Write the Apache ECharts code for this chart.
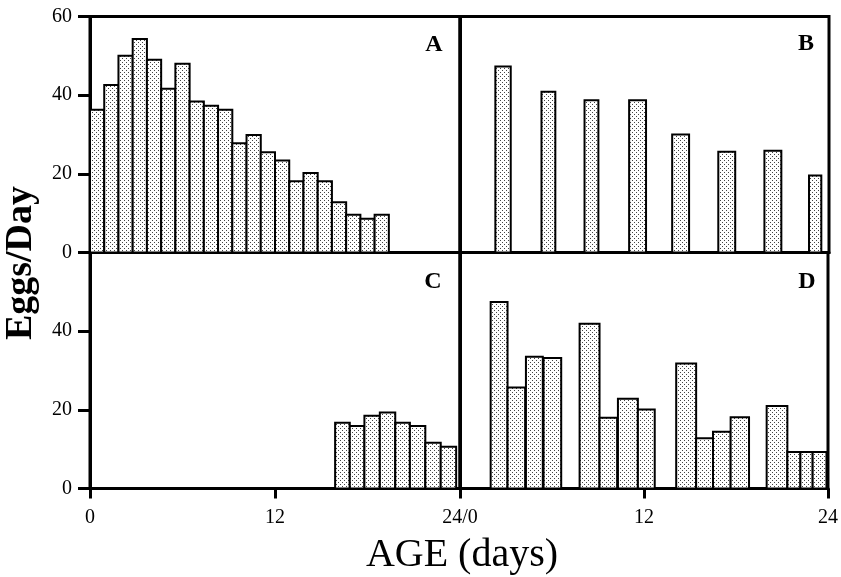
<!DOCTYPE html>
<html>
<head>
<meta charset="utf-8">
<title>Eggs/Day by age</title>
<script src="https://cdn.jsdelivr.net/npm/echarts@6/dist/echarts.min.js"></script>
<style>
  html, body { margin: 0; padding: 0; background: #fff; }
  #chart { width: 841px; height: 577px; }
</style>
</head>
<body>
<div id="chart"></div>
<script>
// A: daily bins
const startA = [0, 1, 2, 3, 4, 5, 6, 7, 8, 9, 10, 11, 12, 13, 14, 15, 16, 17, 18, 19, 20];
const endA = [1, 2, 3, 4, 5, 6, 7, 8, 9, 10, 11, 12, 13, 14, 15, 16, 17, 18, 19, 20, 21];
const eggsA = [36.3, 42.6, 50.0, 54.3, 49.0, 41.6, 48.0, 38.4, 37.3, 36.3, 27.8,
  29.9, 25.5, 23.4, 18.1, 20.2, 18.1, 12.8, 9.6, 8.6, 9.6];

// B: every third day
const startB = [2.3, 5.3, 8.1, 11.0, 13.8, 16.8, 19.8, 22.7];
const endB = [3.3, 6.2, 9.0, 12.1, 14.9, 17.9, 20.9, 23.5];
const eggsB = [47.3, 40.9, 38.7, 38.7, 30.0, 25.6, 25.9, 19.6];

// C: late start
const startC = [15.9, 16.85, 17.8, 18.8, 19.8, 20.75, 21.75, 22.75];
const endC = [16.85, 17.8, 18.8, 19.8, 20.75, 21.75, 22.75, 23.75];
const eggsC = [16.7, 15.9, 18.5, 19.3, 16.7, 15.9, 11.6, 10.6];

// D: four groups of four
const startD = [2.0, 3.1, 4.3, 5.45, 7.8, 9.1, 10.3, 11.6, 14.1, 15.4, 16.5, 17.65, 20.0, 21.35, 22.2, 23.0];
const endD = [3.1, 4.25, 5.4, 6.6, 9.1, 10.25, 11.6, 12.7, 15.4, 16.5, 17.65, 18.85, 21.35, 22.2, 23.0, 23.9];
const eggsD = [47.4, 25.7, 33.5, 33.2, 41.9, 18.0, 22.8, 20.1, 31.8, 12.8, 14.4, 18.1, 21.0, 9.3, 9.3, 9.3];

const panelNames = ['A', 'B', 'C', 'D'];
const yTicks = [0, 20, 40, 60];
const xTicks = [0, 12, 24];

const FONT = '"Liberation Serif", "DejaVu Serif", serif';

// stipple fill for the bars
const dots = document.createElement('canvas');
dots.width = 4;
dots.height = 4;
const g = dots.getContext('2d');
g.fillStyle = '#fff';
g.fillRect(0, 0, 4, 4);
g.fillStyle = '#444';
g.fillRect(0, 0, 1, 1);
g.fillRect(2, 2, 1, 1);

function rows(start, end, eggs) {
  return eggs.map((v, i) => [start[i], end[i], v]);
}

function barItem(params, api) {
  const p0 = api.coord([api.value(0), api.value(2)]);
  const p1 = api.coord([api.value(1), 0]);
  return {
    type: 'rect',
    shape: {x: p0[0], y: p0[1], width: p1[0] - p0[0], height: p1[1] - p0[1]},
    style: {fill: {image: dots, repeat: 'repeat'}, stroke: '#000', lineWidth: 2}
  };
}

const grids = [
  {left: 90, top: 16.5, width: 370, height: 236},
  {left: 460, top: 16.5, width: 369, height: 236},
  {left: 90, top: 252.5, width: 370, height: 236},
  {left: 460, top: 252.5, width: 369, height: 236}
].map(gr => Object.assign(gr, {show: true, borderColor: '#000', borderWidth: 3, containLabel: false}));

function xAxis(i) {
  const bottom = i >= 2;
  return {
    type: 'value',
    gridIndex: i,
    min: 0,
    // panel A's bars are drawn on a slightly wider day scale in the original
    max: i === 0 ? 26 : xTicks[2],
    interval: xTicks[1],
    splitLine: {show: false},
    axisLine: {show: true, onZero: false, lineStyle: {color: '#000', width: 3}},
    axisTick: {show: bottom, inside: false, length: 10, lineStyle: {color: '#000', width: 3}},
    axisLabel: {
      show: bottom,
      showMinLabel: i !== 3,
      margin: 19,
      color: '#000',
      fontFamily: FONT,
      fontSize: 20,
      formatter: v => (i === 2 && v === 24 ? '24/0' : String(v))
    }
  };
}

function yAxis(i) {
  const left = i % 2 === 0;
  return {
    type: 'value',
    gridIndex: i,
    min: yTicks[0],
    max: yTicks[3],
    interval: 20,
    splitLine: {show: false},
    axisLine: {show: true, lineStyle: {color: '#000', width: 3}},
    axisTick: {show: left, inside: false, length: 12, lineStyle: {color: '#000', width: 3}},
    axisLabel: {
      show: left,
      showMaxLabel: i === 0,
      margin: 18,
      color: '#000',
      fontFamily: FONT,
      fontSize: 20
    }
  };
}

const panelData = [
  rows(startA, endA, eggsA),
  rows(startB, endB, eggsB),
  rows(startC, endC, eggsC),
  rows(startD, endD, eggsD)
];

const letterPos = [[434, 45], [806, 44], [433, 282], [807, 282]];

let option = {
  backgroundColor: '#fff',
  animation: false,
  grid: grids,
  xAxis: [0, 1, 2, 3].map(xAxis),
  yAxis: [0, 1, 2, 3].map(yAxis),
  series: panelData.map((d, i) => ({
    type: 'custom',
    name: panelNames[i],
    xAxisIndex: i,
    yAxisIndex: i,
    renderItem: barItem,
    encode: {x: [0, 1], y: 2},
    data: d,
    z: 1
  })),
  graphic: [
    ...panelNames.map((n, i) => ({
      type: 'text',
      x: letterPos[i][0],
      y: letterPos[i][1],
      z: 10,
      style: {
        text: n, fill: '#000', font: 'bold 24px ' + FONT,
        align: 'center', verticalAlign: 'middle'
      }
    })),
    {
      type: 'text',
      x: 21,
      y: 263,
      rotation: Math.PI / 2,
      style: {
        text: 'Eggs/Day', fill: '#000', font: 'bold 38px ' + FONT,
        align: 'center', verticalAlign: 'middle'
      }
    },
    {
      type: 'text',
      x: 462,
      y: 555,
      style: {
        text: 'AGE (days)', fill: '#000', font: '40px ' + FONT,
        align: 'center', verticalAlign: 'middle'
      }
    }
  ]
};

let myChart = echarts.init(document.getElementById('chart'));
myChart.setOption(option);
</script>
</body>
</html>
